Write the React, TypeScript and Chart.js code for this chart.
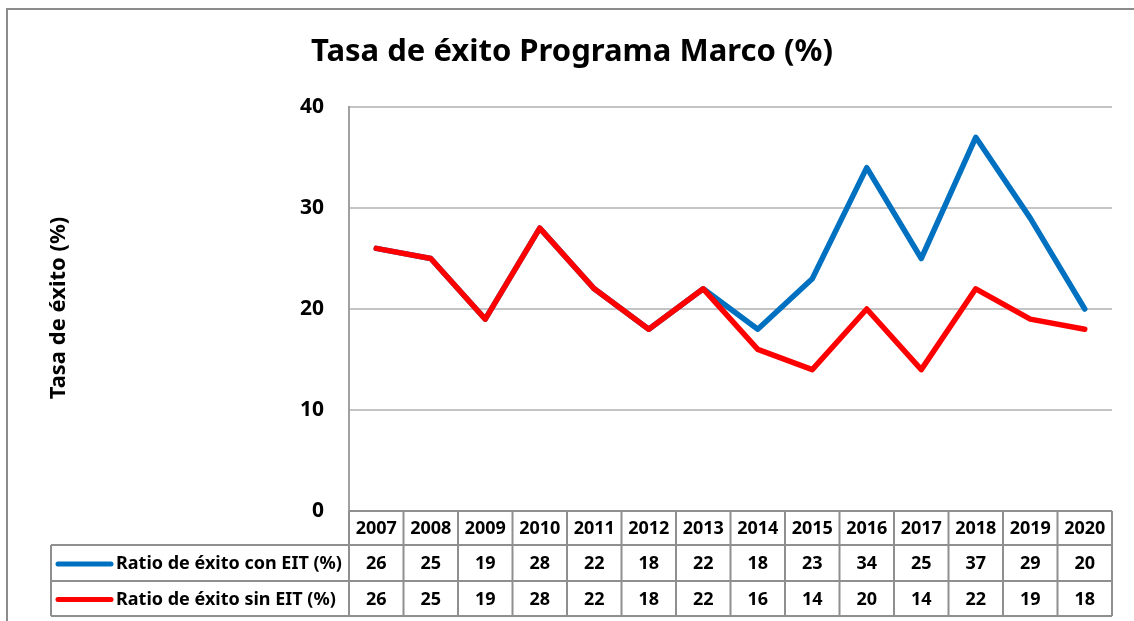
import { useEffect, useRef } from "react";
import { Chart, registerables } from "chart.js";

Chart.register(...registerables);

const years = ["2007", "2008", "2009", "2010", "2011", "2012", "2013", "2014", "2015", "2016", "2017", "2018", "2019", "2020"];
const conEIT = [26, 25, 19, 28, 22, 18, 22, 18, 23, 34, 25, 37, 29, 20];
const sinEIT = [26, 25, 19, 28, 22, 18, 22, 16, 14, 20, 14, 22, 19, 18];
const seriesNames = ["Ratio de éxito con EIT (%)", "Ratio de éxito sin EIT (%)"];
const seriesColors = ["#0070C0", "#FF0000"];
const chartTitle = "Tasa de éxito Programa Marco (%)";
const yTitle = "Tasa de éxito (%)";
const yMin = 0;
const yMax = 40;
const yStep = 10;

const FONT = "'Noto Sans', 'DejaVu Sans', sans-serif";

const tablePlugin = {
  id: "tablePlugin",
  beforeDraw(chart: any) {
    const ctx = chart.ctx;
    ctx.save();
    ctx.fillStyle = "#ffffff";
    ctx.fillRect(0, 0, chart.width, chart.height);
    ctx.strokeStyle = "#8c8c8c";
    ctx.lineWidth = 2;
    ctx.strokeRect(7, 9, chart.width + 20, chart.height + 20);
    ctx.restore();
  },
  afterDraw(chart: any) {
    const ctx = chart.ctx;
    const area = chart.chartArea;
    const xs = chart.scales.x;
    const n = years.length;
    const colW = (area.right - area.left) / n;
    const top = area.bottom;
    const rowYs = [top, top + 34, top + 70, top + 105];
    const legLeft = 51;

    ctx.save();
    // title
    ctx.fillStyle = "#000";
    ctx.font = `bold 31px ${FONT}`;
    ctx.textAlign = "center";
    ctx.textBaseline = "middle";
    ctx.fillText(chartTitle, 572, 52);

    // y title
    ctx.save();
    ctx.translate(59, 308);
    ctx.rotate(-Math.PI / 2);
    ctx.font = `bold 22px ${FONT}`;
    ctx.fillText(yTitle, 0, 0);
    ctx.restore();

    // table grid
    ctx.strokeStyle = "#8f8f8f";
    ctx.lineWidth = 2;
    ctx.beginPath();
    ctx.moveTo(area.left, rowYs[0]);
    ctx.lineTo(area.right, rowYs[0]);
    for (let r = 1; r < rowYs.length; r++) {
      ctx.moveTo(legLeft, rowYs[r]);
      ctx.lineTo(area.right, rowYs[r]);
    }
    for (let i = 0; i <= n; i++) {
      const x = area.left + i * colW;
      ctx.moveTo(x, rowYs[0]);
      ctx.lineTo(x, rowYs[3]);
    }
    ctx.moveTo(legLeft, rowYs[1]);
    ctx.lineTo(legLeft, rowYs[3]);
    ctx.stroke();

    // header years
    ctx.fillStyle = "#000";
    ctx.font = `bold 18px ${FONT}`;
    ctx.textAlign = "center";
    ctx.textBaseline = "middle";
    years.forEach((y, i) => {
      ctx.fillText(y, xs.getPixelForValue(i), (rowYs[0] + rowYs[1]) / 2 + 1);
    });
    const series = [conEIT, sinEIT];
    series.forEach((vals, r) => {
      const cy = (rowYs[r + 1] + rowYs[r + 2]) / 2 + 1;
      vals.forEach((v, i) => {
        ctx.fillText(String(v), xs.getPixelForValue(i), cy);
      });
      ctx.strokeStyle = seriesColors[r];
      ctx.lineWidth = 5;
      ctx.lineCap = "round";
      ctx.beginPath();
      ctx.moveTo(58, cy);
      ctx.lineTo(111, cy);
      ctx.stroke();
      ctx.textAlign = "left";
      ctx.fillText(seriesNames[r], 116, cy);
      ctx.textAlign = "center";
    });
    ctx.restore();
  },
};

export default function App() {
  const ref = useRef<HTMLCanvasElement | null>(null);
  useEffect(() => {
    if (!ref.current) return;
    const chart = new Chart(ref.current, {
      type: "line",
      data: {
        labels: years,
        datasets: [
          {
            label: seriesNames[0],
            data: conEIT,
            borderColor: seriesColors[0],
            backgroundColor: seriesColors[0],
            borderWidth: 5.5,
            pointRadius: 0,
            borderCapStyle: "round",
            borderJoinStyle: "round",
            tension: 0,
            order: 2,
          },
          {
            label: seriesNames[1],
            data: sinEIT,
            borderColor: seriesColors[1],
            backgroundColor: seriesColors[1],
            borderWidth: 5.5,
            pointRadius: 0,
            borderCapStyle: "round",
            borderJoinStyle: "round",
            tension: 0,
            order: 1,
          },
        ],
      },
      options: {
        responsive: false,
        animation: false,
        events: [],
        layout: { padding: { top: 107, right: 22, bottom: 110, left: 0 } },
        plugins: {
          legend: { display: false },
          title: { display: false },
          tooltip: { enabled: false },
        },
        scales: {
          x: {
            type: "category",
            display: false,
            offset: true,
            grid: { display: false },
          },
          y: {
            min: yMin,
            max: yMax,
            afterFit: (s: any) => {
              s.width = 349;
            },
            ticks: {
              stepSize: yStep,
              padding: 25,
              color: "#000",
              font: { family: FONT, size: 21, weight: "bold" },
            },
            grid: { color: "#c4c4c4", lineWidth: 2, drawTicks: false },
            border: { display: true, color: "#a0a0a0", width: 2 },
          },
        },
      },
      plugins: [tablePlugin],
    });
    return () => chart.destroy();
  }, []);
  return (
    <div style={{ position: "fixed", left: 0, top: 0, width: 1134, height: 621, background: "#fff" }}>
      <canvas ref={ref} width={1134} height={621} style={{ display: "block" }} />
    </div>
  );
}
